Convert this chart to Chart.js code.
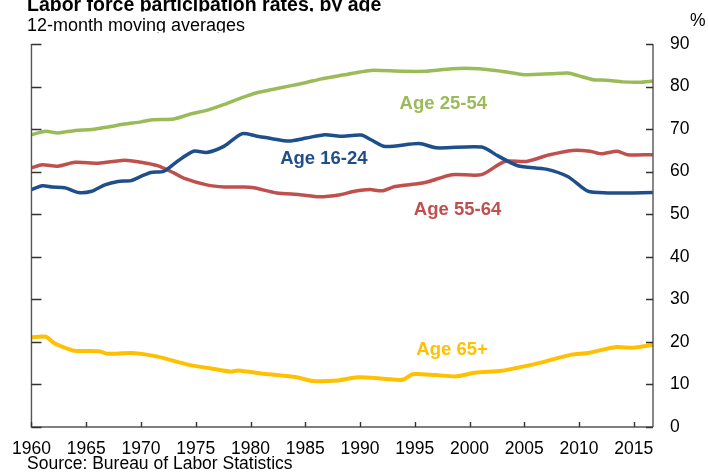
<!DOCTYPE html>
<html>
<head>
<meta charset="utf-8">
<script src="https://cdn.jsdelivr.net/npm/chart.js@4/dist/chart.umd.min.js"></script>
<style>
  html, body { margin: 0; padding: 0; background: #ffffff; }
  canvas { display: block; }
</style>
</head>
<body>
<canvas id="c" width="708" height="474"></canvas>
<script>
// ---- Data ----
const titleText = 'Labor force participation rates, by age';
const subtitleText = '12-month moving averages';
const sourceText = 'Source: Bureau of Labor Statistics';
const unitText = '%';

const tickYears = [1960, 1965, 1970, 1975, 1980, 1985, 1990, 1995, 2000, 2005, 2010, 2015];
const yTicks = [0, 10, 20, 30, 40, 50, 60, 70, 80, 90];

const years2554 = [1960, 1961.3, 1962.4, 1964, 1965.5, 1967, 1968.5, 1970, 1971, 1973, 1974.6, 1976, 1977.6, 1979.1, 1980.5, 1982, 1983.5, 1985, 1986.5, 1988, 1989.5, 1991, 1993.8, 1996, 1998.4, 2000.8, 2002.9, 2005, 2007.4, 2009, 2010, 2011.3, 2012.5, 2014, 2015.5, 2016.75];
const age2554  = [68.7, 69.5, 69.1, 69.7, 69.9, 70.5, 71.2, 71.7, 72.2, 72.4, 73.6, 74.4, 75.8, 77.3, 78.5, 79.3, 80.1, 80.9, 81.8, 82.5, 83.2, 83.8, 83.6, 83.6, 84.2, 84.2, 83.6, 82.8, 83.0, 83.2, 82.5, 81.6, 81.5, 81.1, 81.0, 81.3];

const years1624 = [1960, 1961, 1961.9, 1963.1, 1964.3, 1965.5, 1966.7, 1967.9, 1969.1, 1970, 1970.9, 1972.1, 1973.3, 1974.8, 1976, 1977.6, 1979.2, 1980.5, 1982.1, 1983.5, 1985.1, 1986.8, 1988.2, 1990.1, 1991, 1992.3, 1995.4, 1997, 2001.1, 2002.6, 2004.4, 2007, 2009, 2010.8, 2012.6, 2014.9, 2016.75];
const age1624  = [55.8, 56.7, 56.4, 56.2, 55.1, 55.4, 56.9, 57.7, 57.9, 58.9, 59.8, 60.1, 62.4, 64.8, 64.5, 66.0, 68.9, 68.4, 67.7, 67.2, 67.9, 68.7, 68.3, 68.6, 67.5, 65.9, 66.6, 65.6, 65.8, 63.7, 61.4, 60.6, 58.8, 55.4, 55.0, 55.0, 55.1];

const years5564 = [1960, 1961, 1962.4, 1964, 1966.1, 1968.5, 1970, 1971.5, 1973, 1973.9, 1976, 1977.6, 1979.4, 1980.3, 1982.4, 1984.5, 1986.3, 1988.2, 1989.5, 1990.9, 1992, 1993.2, 1995.4, 1996.3, 1998.4, 2001.1, 2003.2, 2005.2, 2007.2, 2009.4, 2011, 2012, 2013.5, 2014.4, 2016.75];
const age5564  = [60.9, 61.6, 61.3, 62.2, 62.0, 62.7, 62.2, 61.4, 59.7, 58.5, 56.9, 56.4, 56.4, 56.2, 55.0, 54.6, 54.1, 54.6, 55.4, 55.8, 55.5, 56.5, 57.2, 57.7, 59.3, 59.3, 62.4, 62.4, 63.9, 65.0, 64.8, 64.2, 64.8, 64.0, 64.0];

const years65p = [1960, 1961.3, 1962.1, 1963.2, 1963.9, 1966.2, 1966.9, 1969.2, 1971.4, 1974.4, 1976.3, 1978.2, 1978.9, 1981.2, 1984.2, 1985.7, 1987.9, 1989.8, 1992.4, 1993.9, 1994.8, 1996.9, 1998.8, 2000.6, 2002.9, 2006.3, 2009.3, 2010.8, 2013.4, 2014.9, 2016.75];
const age65p   = [21.1, 21.2, 19.7, 18.5, 17.9, 17.8, 17.2, 17.4, 16.6, 14.6, 13.8, 13.0, 13.3, 12.5, 11.7, 10.8, 10.9, 11.7, 11.3, 11.1, 12.4, 12.2, 11.9, 12.8, 13.2, 15.0, 17.0, 17.4, 18.8, 18.6, 19.3];

const seriesNames = ['Age 25-54', 'Age 16-24', 'Age 55-64', 'Age 65+'];
// label anchor positions in data space [year, value]
const labelYears  = [1997.6, 1986.7, 1998.9, 1998.4];
const labelValues = [76.0, 63.1, 51.1, 18.1];

// ---- Styles ----
const COLORS = ['#9BBB59', '#1F4E8C', '#C0504D', '#FFC000'];
const FONT = '"Liberation Sans", Arial, sans-serif';

function pairs(xs, ys) { return xs.map((x, i) => ({ x: x, y: ys[i] })); }

const datasets = [
  { label: seriesNames[0], data: pairs(years2554, age2554), borderColor: COLORS[0] },
  { label: seriesNames[1], data: pairs(years1624, age1624), borderColor: COLORS[1] },
  { label: seriesNames[2], data: pairs(years5564, age5564), borderColor: COLORS[2] },
  { label: seriesNames[3], data: pairs(years65p, age65p), borderColor: COLORS[3], borderWidth: 4 }
].map(d => Object.assign({ borderWidth: 3.5, pointRadius: 0, tension: 0.25, fill: false, borderCapStyle: 'round', borderJoinStyle: 'round' }, d));

const decor = {
  id: 'decor',
  afterDraw(chart) {
    const ctx = chart.ctx;
    const xs = chart.scales.x, ys = chart.scales.y;
    const a = chart.chartArea;
    ctx.save();
    // frame lines
    ctx.strokeStyle = '#555555';
    ctx.lineWidth = 1.4;
    ctx.beginPath();
    ctx.moveTo(a.left, a.top); ctx.lineTo(a.left, a.bottom);
    ctx.lineTo(a.right, a.bottom);
    ctx.moveTo(a.right, a.top); ctx.lineTo(a.right, a.bottom);
    ctx.stroke();
    // y ticks (inward)
    ctx.strokeStyle = '#333333';
    ctx.lineWidth = 1.4;
    ctx.beginPath();
    yTicks.forEach(v => {
      const py = Math.round(ys.getPixelForValue(v)) + 0.5;
      ctx.moveTo(a.left, py); ctx.lineTo(a.left + 10, py);
      ctx.moveTo(a.right - 7, py); ctx.lineTo(a.right, py);
    });
    tickYears.forEach(v => {
      const px = Math.round(xs.getPixelForValue(v)) + 0.5;
      ctx.moveTo(px, a.bottom); ctx.lineTo(px, a.bottom - 5);
    });
    ctx.stroke();

    // series labels
    ctx.font = 'bold 18.5px ' + FONT;
    ctx.textAlign = 'center';
    ctx.textBaseline = 'middle';
    seriesNames.forEach((n, i) => {
      ctx.fillStyle = COLORS[i];
      ctx.fillText(n, xs.getPixelForValue(labelYears[i]), ys.getPixelForValue(labelValues[i]));
    });

    // title (clipped like the reference)
    ctx.save();
    ctx.beginPath(); ctx.rect(0, 0, 708, 11.5); ctx.clip();
    ctx.fillStyle = '#000000';
    ctx.textAlign = 'left';
    ctx.textBaseline = 'alphabetic';
    ctx.font = 'bold 19.5px ' + FONT;
    ctx.fillText(titleText, 27, 11);
    ctx.restore();

    ctx.save();
    ctx.beginPath(); ctx.rect(0, 12, 708, 20.5); ctx.clip();
    ctx.fillStyle = '#000000';
    ctx.textAlign = 'left';
    ctx.textBaseline = 'alphabetic';
    ctx.font = '18px ' + FONT;
    ctx.fillText(subtitleText, 27, 30.5);
    ctx.restore();

    ctx.fillStyle = '#000000';
    ctx.textAlign = 'left';
    ctx.textBaseline = 'alphabetic';
    ctx.font = '17.5px ' + FONT;
    ctx.fillText(unitText, 690, 26);
    ctx.fillText(sourceText, 27, 469);
    ctx.restore();
  }
};

new Chart(document.getElementById('c'), {
  type: 'line',
  data: { datasets: datasets },
  options: {
    responsive: false,
    devicePixelRatio: 1,
    animation: false,
    layout: { padding: { left: 26, top: 44, right: 0, bottom: 0 } },
    plugins: { legend: { display: false }, tooltip: { enabled: false }, title: { display: false } },
    scales: {
      x: {
        type: 'linear',
        min: 1960,
        max: 2016.75,
        afterBuildTicks: s => { s.ticks = tickYears.map(v => ({ value: v })); },
        afterFit: s => { s.height = 47; },
        grid: { display: false, drawTicks: false },
        border: { display: false },
        ticks: {
          autoSkip: false,
          maxRotation: 0,
          padding: 12,
          color: '#000000',
          font: { family: FONT, size: 17.5 },
          callback: v => String(v)
        }
      },
      y: {
        position: 'right',
        min: 0,
        max: 90,
        afterBuildTicks: s => { s.ticks = yTicks.map(v => ({ value: v })); },
        afterFit: s => { s.width = 55; },
        grid: { display: false, drawTicks: false },
        border: { display: false },
        ticks: {
          padding: 17,
          color: '#000000',
          font: { family: FONT, size: 17.5 },
          callback: v => String(v)
        }
      }
    }
  },
  plugins: [decor]
});
</script>
</body>
</html>
